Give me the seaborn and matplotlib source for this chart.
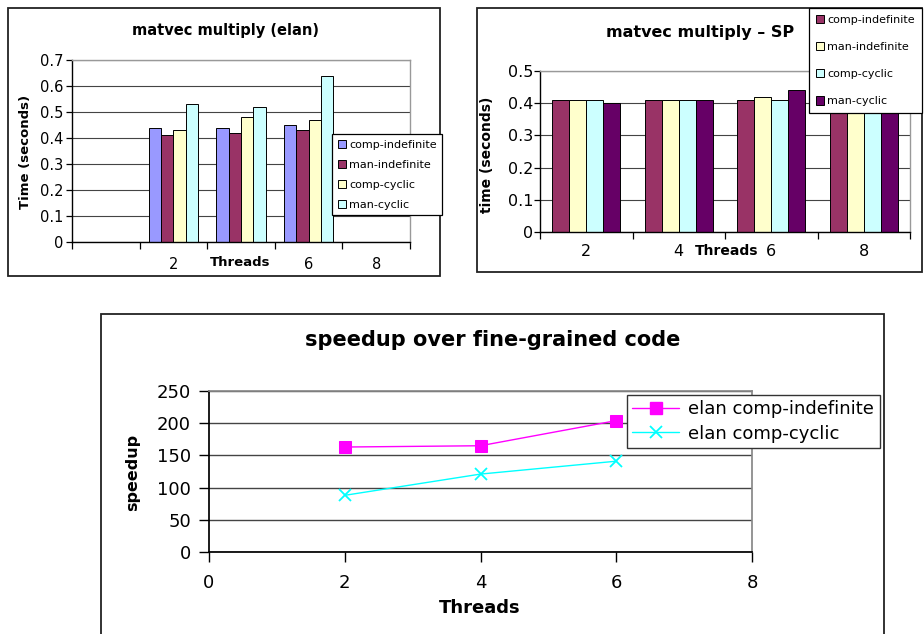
import numpy as np
import pandas as pd
import matplotlib
matplotlib.use("Agg")
import matplotlib.pyplot as plt
import seaborn as sns
from matplotlib.patches import Rectangle, Patch
from matplotlib.lines import Line2D

sns.set_theme(style="white")
plt.rcParams["font.family"] = ["DejaVu Sans"]
plt.rcParams["text.color"] = "black"
plt.rcParams["axes.labelcolor"] = "black"
plt.rcParams["xtick.color"] = "black"
plt.rcParams["ytick.color"] = "black"

# ---------------- data ----------------
elan_threads = ["", "2", "4", "6", "8"]
elan_series = ["comp-indefinite", "man-indefinite", "comp-cyclic", "man-cyclic"]
elan_comp_indefinite = [np.nan, 0.44, 0.44, 0.45, np.nan]
elan_man_indefinite = [np.nan, 0.41, 0.42, 0.43, np.nan]
elan_comp_cyclic = [np.nan, 0.43, 0.48, 0.47, np.nan]
elan_man_cyclic = [np.nan, 0.53, 0.52, 0.64, np.nan]
elan_colors = ["#9999FF", "#993366", "#FFFFCC", "#CCFFFF"]

sp_threads = ["2", "4", "6", "8"]
sp_series = ["comp-indefinite", "man-indefinite", "comp-cyclic", "man-cyclic"]
sp_comp_indefinite = [0.41, 0.41, 0.41, 0.41]
sp_man_indefinite = [0.41, 0.41, 0.42, 0.41]
sp_comp_cyclic = [0.41, 0.41, 0.41, 0.41]
sp_man_cyclic = [0.40, 0.41, 0.44, 0.41]
sp_colors = ["#993366", "#FFFFCC", "#CCFFFF", "#660066"]

speed_threads = [2, 4, 6]
speed_comp_indefinite = [163, 165, 204]
speed_comp_cyclic = [88, 121, 141]
speed_labels = ["elan comp-indefinite", "elan comp-cyclic"]
speed_colors = ["#FF00FF", "#00FFFF"]

W, H = 924, 634
fig = plt.figure(figsize=(W / 100, H / 100), dpi=100)
fig.patch.set_facecolor("white")


def px_axes(x0, y0, x1, y1):
    return fig.add_axes([x0 / W, 1 - y1 / H, (x1 - x0) / W, (y1 - y0) / H])


def frame(x0, y0, x1, y1):
    fig.add_artist(Rectangle((x0 / W, 1 - y1 / H), (x1 - x0) / W, (y1 - y0) / H,
                             transform=fig.transFigure, fill=False,
                             ec="#222222", lw=1.3, zorder=0))


def ftext(x, y, s, **kw):
    return fig.text(x / W, 1 - y / H, s, ha="center", va="center", color="black", **kw)


def long_df(cats, series, cols):
    rows = []
    for s, vals in zip(series, cols):
        for c, v in zip(cats, vals):
            if not np.isnan(v):
                rows.append({"threads": c, "series": s, "time": v})
    return pd.DataFrame(rows)


def style_bar_axes(ax, ymax, step, fs, ypad, xpad):
    ax.set_ylim(0, ymax)
    yt = np.round(np.arange(0, ymax + step / 2, step), 2)
    ax.set_yticks(yt, labels=[f"{v:g}" for v in yt])
    ax.yaxis.grid(True, color="#444444", lw=0.8)
    ax.set_axisbelow(True)
    n = len(ax.get_xticks())
    ax.set_xticks(np.arange(-0.5, n, 1.0), minor=True)
    ax.tick_params(axis="x", which="major", length=0, pad=xpad, labelsize=fs, colors="black")
    ax.tick_params(axis="x", which="minor", length=5, width=0.9, direction="out",
                   color="black", bottom=True)
    ax.tick_params(axis="y", length=4, width=0.9, direction="out", pad=ypad,
                   labelsize=fs, colors="black", left=True)
    for s in ("left", "bottom"):
        ax.spines[s].set_color("black")
        ax.spines[s].set_linewidth(1.0)
    for s in ("top", "right"):
        ax.spines[s].set_color("#999999")
        ax.spines[s].set_linewidth(1.0)
    ax.set_xlabel("")
    ax.set_ylabel("")


# ---------------- top-left: elan ----------------
frame(8, 8, 440, 276)
ax1 = px_axes(72, 60, 410, 242)
df1 = long_df(elan_threads, elan_series,
              [elan_comp_indefinite, elan_man_indefinite, elan_comp_cyclic, elan_man_cyclic])
sns.barplot(data=df1, x="threads", y="time", hue="series", order=elan_threads,
            hue_order=elan_series, palette=elan_colors, width=0.73, errorbar=None,
            edgecolor="black", linewidth=0.7, saturation=1, legend=False, ax=ax1)
style_bar_axes(ax1, 0.7, 0.1, 10.5, 2, 10.5)
# the "4" label sits under the axis title "Threads" in the reference
ax1.set_xticks(range(len(elan_threads)), labels=["" if t == "4" else t for t in elan_threads])
ax1.legend(handles=[Patch(fc=c, ec="black", lw=0.7) for c in elan_colors], labels=elan_series,
           loc="upper left", bbox_to_anchor=(332 / W, 1 - 134 / H), bbox_transform=fig.transFigure,
           borderaxespad=0, fontsize=8, handlelength=0.75, handleheight=0.75, handletextpad=0.3,
           labelspacing=0.9, borderpad=0.5, frameon=True, fancybox=False, framealpha=1,
           edgecolor="black")
ax1.get_legend().get_frame().set_linewidth(0.9)
ftext(225, 31, "matvec multiply (elan)", fontsize=10.5, fontweight="bold")
ftext(26, 152, "Time (seconds)", fontsize=9.5, fontweight="bold", rotation=90)
ftext(240, 263, "Threads", fontsize=9.5, fontweight="bold")

# ---------------- top-right: SP ----------------
frame(477, 8, 922, 272)
ax2 = px_axes(540, 71, 910, 232)
df2 = long_df(sp_threads, sp_series,
              [sp_comp_indefinite, sp_man_indefinite, sp_comp_cyclic, sp_man_cyclic])
sns.barplot(data=df2, x="threads", y="time", hue="series", order=sp_threads,
            hue_order=sp_series, palette=sp_colors, width=0.73, errorbar=None,
            edgecolor="black", linewidth=0.7, saturation=1, legend=False, ax=ax2)
style_bar_axes(ax2, 0.5, 0.1, 11.5, 1, 9)
ax2.legend(handles=[Patch(fc=c, ec="black", lw=0.7) for c in sp_colors], labels=sp_series,
           loc="upper left", bbox_to_anchor=(809 / W, 1 - 8 / H), bbox_transform=fig.transFigure,
           borderaxespad=0, fontsize=8, handlelength=0.75, handleheight=0.75, handletextpad=0.3,
           labelspacing=1.55, borderpad=0.6, frameon=True, fancybox=False, framealpha=1,
           edgecolor="black")
ax2.get_legend().get_frame().set_linewidth(0.9)
ax2.get_legend().set_zorder(10)
ftext(700, 32, "matvec multiply \u2013 SP", fontsize=11.5, fontweight="bold")
ftext(487, 155, "time (seconds)", fontsize=10, fontweight="bold", rotation=90)
ftext(727, 251, "Threads", fontsize=10, fontweight="bold")

# ---------------- bottom: speedup ----------------
frame(101, 314, 884, 660)
ax3 = px_axes(209, 391, 752, 552)
sns.lineplot(x=speed_threads, y=speed_comp_indefinite, ax=ax3, color=speed_colors[0],
             marker="s", markersize=8, markeredgecolor=speed_colors[0], lw=1.0)
sns.lineplot(x=speed_threads, y=speed_comp_cyclic, ax=ax3, color=speed_colors[1],
             marker="x", markersize=9, markeredgewidth=1.3, markeredgecolor=speed_colors[1], lw=1.0)
ax3.set_xlim(0, 8)
ax3.set_ylim(0, 250)
ax3.set_xticks([0, 2, 4, 6, 8])
ax3.set_yticks([0, 50, 100, 150, 200, 250])
ax3.yaxis.grid(True, color="#444444", lw=1.0)
ax3.set_axisbelow(True)
ax3.tick_params(axis="x", length=7, width=1.0, direction="out", pad=9, labelsize=13,
                colors="black", bottom=True)
ax3.tick_params(axis="y", length=7, width=1.0, direction="out", pad=6, labelsize=13,
                colors="black", left=True)
for s in ("left", "bottom"):
    ax3.spines[s].set_color("black")
for s in ("top", "right"):
    ax3.spines[s].set_color("#888888")
ax3.set_xlabel("")
ax3.set_ylabel("")
leg3 = ax3.legend(handles=[Line2D([], [], color=speed_colors[0], marker="s", ms=8, lw=1.0),
                           Line2D([], [], color=speed_colors[1], marker="x", ms=9, mew=1.3, lw=1.0)],
                  labels=speed_labels, loc="upper left",
                  bbox_to_anchor=(627 / W, 1 - 395 / H), bbox_transform=fig.transFigure,
                  borderaxespad=0, fontsize=13, handlelength=2.6, handletextpad=0.5,
                  labelspacing=0.35, borderpad=0.3, frameon=True, fancybox=False,
                  framealpha=1, edgecolor="#333333")
leg3.get_frame().set_linewidth(1.0)
ftext(493, 340, "speedup over fine-grained code", fontsize=15, fontweight="bold")
ftext(133, 472, "speedup", fontsize=11.5, fontweight="bold", rotation=90)
ftext(480, 608, "Threads", fontsize=13, fontweight="bold")

fig.savefig("out.png", dpi=100, facecolor="white")
